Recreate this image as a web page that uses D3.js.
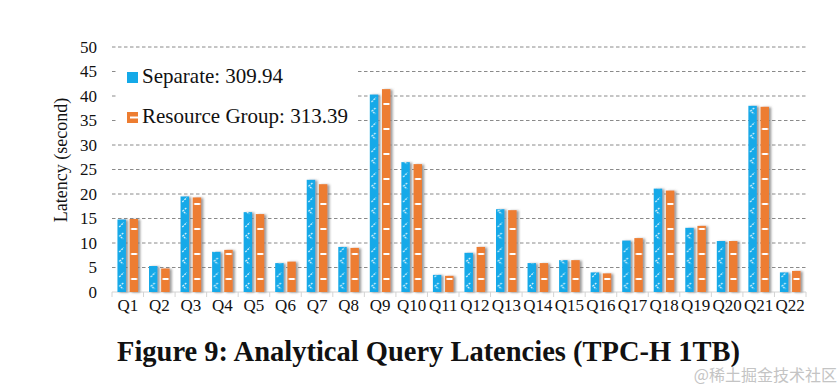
<!DOCTYPE html>
<html>
<head>
<meta charset="utf-8">
<script src="https://cdn.jsdelivr.net/npm/d3@7"></script>
<style>
  body { margin: 0; background: #fff; }
  svg { display: block; }
</style>
</head>
<body>
<div id="chart-container"></div>
<script>
// Values (seconds)
const queries = ["Q1","Q2","Q3","Q4","Q5","Q6","Q7","Q8","Q9","Q10","Q11",
                 "Q12","Q13","Q14","Q15","Q16","Q17","Q18","Q19","Q20","Q21","Q22"];
const separate = [14.8, 5.3, 19.5, 8.2, 16.3, 5.9, 22.9, 9.2, 40.3, 26.5, 3.5,
                  8.0, 16.9, 5.9, 6.5, 4.0, 10.5, 21.1, 13.1, 10.4, 38.0, 4.0];
const resourceGroup = [14.9, 4.8, 19.3, 8.6, 15.9, 6.2, 22.0, 9.0, 41.4, 26.1, 3.3,
                       9.2, 16.7, 5.9, 6.5, 3.8, 11.0, 20.7, 13.5, 10.4, 37.8, 4.3];
const yTicks = [0, 5, 10, 15, 20, 25, 30, 35, 40, 45, 50];
const seriesKeys = ["sep", "rg"];
const legendLabels = ["Separate: 309.94", "Resource Group: 313.39"];

const width = 840, height = 386;
const serif = "'Liberation Serif', 'Times New Roman', serif";
const blue = "#14a9e8", orange = "#ed7d31";

const svg = d3.select("#chart-container").append("svg")
    .attr("width", width)
    .attr("height", height);

// Scales
const x = d3.scaleBand().domain(queries).range([112, 806]);
const sub = d3.scaleBand().domain(seriesKeys).range([0, x.bandwidth()])
    .paddingInner(0.3).paddingOuter(0.45);
const y = d3.scaleLinear().domain([0, 50]).range([292, 47]);

const defs = svg.append("defs");

// Grey shadow on the right of each bar
const shadow = defs.append("filter").attr("id", "shadow")
    .attr("x", "-50%").attr("y", "-10%").attr("width", "200%").attr("height", "120%");
shadow.append("feDropShadow")
    .attr("dx", 2.2).attr("dy", 0.5).attr("stdDeviation", 1.2)
    .attr("flood-color", "#6f6f6f").attr("flood-opacity", 0.7);

// Bar textures; bars sit inside a group translated to the band start,
// so a tile the width of one band lines the marks up with each bar
const period = 25;
const patBlue = defs.append("pattern").attr("id", "pat-sep")
    .attr("patternUnits", "userSpaceOnUse")
    .attr("x", 0).attr("y", y(0))
    .attr("width", x.step()).attr("height", period);
patBlue.append("rect").attr("width", x.step()).attr("height", period).attr("fill", blue);
{
  const cx = sub("sep") + sub.bandwidth() / 2;
  patBlue.append("path")
      .attr("d", `M${cx - 2.5},${10} L${cx + 2},${5.5} M${cx + 1.5},${16} L${cx - 2},${19} L${cx + 1.5},${22}`)
      .attr("stroke", "#fff").attr("stroke-width", 1.3).attr("stroke-opacity", 0.85)
      .attr("stroke-dasharray", "2,1")
      .attr("fill", "none");
}

const patOrange = defs.append("pattern").attr("id", "pat-rg")
    .attr("patternUnits", "userSpaceOnUse")
    .attr("x", 0).attr("y", y(0))
    .attr("width", x.step()).attr("height", period);
patOrange.append("rect").attr("width", x.step()).attr("height", period).attr("fill", orange);
patOrange.append("rect")
    .attr("x", sub("rg") + 1.5).attr("y", 11)
    .attr("width", sub.bandwidth() - 2.5).attr("height", 2)
    .attr("fill", "#fff");

// Gridlines (dashed) above zero
svg.append("g")
  .selectAll("line")
  .data(yTicks.filter(d => d > 0))
  .join("line")
    .attr("x1", x.range()[0]).attr("x2", x.range()[1])
    .attr("y1", d => y(d)).attr("y2", d => y(d))
    .attr("stroke", "#8a8a8a")
    .attr("stroke-width", 1)
    .attr("stroke-dasharray", "3.5,2.5");

// Base axis line with category separator ticks
svg.append("line")
    .attr("x1", x.range()[0]).attr("x2", x.range()[1])
    .attr("y1", y(0)).attr("y2", y(0))
    .attr("stroke", "#d4d4d4");
svg.append("g")
  .selectAll("line")
  .data(queries.map(q => x(q)).concat([x.range()[1]]))
  .join("line")
    .attr("x1", d => d).attr("x2", d => d)
    .attr("y1", y(0)).attr("y2", y(0) + 5)
    .attr("stroke", "#d4d4d4");

// Y tick labels
svg.append("g")
    .style("font", `17px ${serif}`)
    .attr("text-anchor", "end")
  .selectAll("text")
  .data(yTicks)
  .join("text")
    .attr("x", 97)
    .attr("y", d => y(d))
    .attr("dy", "0.34em")
    .attr("fill", "#111")
    .text(d => d);

// X tick labels
svg.append("g")
    .style("font", `17px ${serif}`)
    .attr("text-anchor", "middle")
  .selectAll("text")
  .data(queries)
  .join("text")
    .attr("x", d => x(d) + x.bandwidth() / 2)
    .attr("y", 311)
    .attr("fill", "#111")
    .text(d => d);

// Y axis title
svg.append("text")
    .attr("transform", "translate(67,160) rotate(-90)")
    .attr("text-anchor", "middle")
    .style("font", `18px ${serif}`)
    .attr("fill", "#111")
    .text("Latency (second)");

// Bars
const rows = queries.map((q, i) => ({ q, sep: separate[i], rg: resourceGroup[i] }));
svg.append("g")
  .selectAll("g")
  .data(rows)
  .join("g")
    .attr("transform", d => `translate(${x(d.q)},0)`)
  .selectAll("rect")
  .data(d => seriesKeys.map(k => ({ key: k, value: d[k] })))
  .join("rect")
    .attr("x", d => sub(d.key))
    .attr("y", d => y(d.value))
    .attr("width", sub.bandwidth())
    .attr("height", d => y(0) - y(d.value))
    .attr("fill", d => `url(#pat-${d.key})`)
    .attr("filter", "url(#shadow)");

// Legend, on a white box that hides the gridlines behind it
const legendBox = svg.append("g").attr("transform", "translate(117,57)");
legendBox.append("rect")
    .attr("width", 241).attr("height", 77)
    .attr("fill", "#fff");
const legend = legendBox
  .selectAll("g")
  .data(seriesKeys)
  .join("g")
    .attr("transform", (d, i) => `translate(10,${15 + i * 40})`);
legend.append("rect")
    .attr("width", 11).attr("height", 11)
    .attr("fill", d => d === "sep" ? blue : orange);
legend.filter(d => d === "rg").append("rect")
    .attr("x", 3).attr("y", 4.5).attr("width", 8).attr("height", 2)
    .attr("fill", "#fff");
legend.append("text")
    .attr("x", 15).attr("y", 11)
    .style("font", `21px ${serif}`)
    .attr("fill", "#111")
    .text((d, i) => legendLabels[i]);

// Caption
svg.append("text")
    .attr("x", 117).attr("y", 361)
    .attr("textLength", 623)
    .attr("lengthAdjust", "spacingAndGlyphs")
    .style("font", `bold 29px ${serif}`)
    .attr("fill", "#111")
    .text("Figure 9: Analytical Query Latencies (TPC-H 1TB)");

// Watermark
svg.append("text")
    .attr("x", 837).attr("y", 381)
    .attr("text-anchor", "end")
    .style("font", "16px 'Noto Sans CJK SC', sans-serif")
    .attr("fill", "#c4c4c4")
    .text("@稀土掘金技术社区");
</script>
</body>
</html>
